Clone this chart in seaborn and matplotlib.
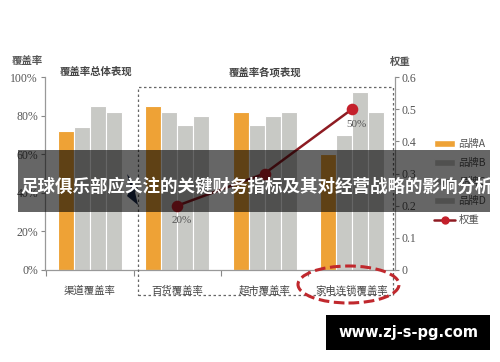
import matplotlib
matplotlib.use("Agg")
import matplotlib.pyplot as plt
from matplotlib.patches import Rectangle, Ellipse, Polygon, Patch
from matplotlib.lines import Line2D
import seaborn as sns
import pandas as pd
import numpy as np

# ---- data ----
categories = ["渠道覆盖率", "百货覆盖率", "超市覆盖率", "家电连锁覆盖率"]
brands = ["品牌A", "品牌B", "品牌C", "品牌D"]
brand_a = [72, 85, 82, 60]
brand_b = [74, 82, 75, 70]
brand_c = [85, 75, 80, 92]
brand_d = [82, 80, 82, 82]
weight_cats = ["百货覆盖率", "超市覆盖率", "家电连锁覆盖率"]
weights = [0.2, 0.3, 0.5]
weight_labels = ["20%", "", "50%"]
left_ticks = [0, 20, 40, 60, 80, 100]
left_ticklabels = ["0%", "20%", "40%", "60%", "80%", "100%"]
right_ticks = [0, 0.1, 0.2, 0.3, 0.4, 0.5, 0.6]
right_ticklabels = ["0", "0.1", "0.2", "0.3", "0.4", "0.5", "0.6"]

rows = []
for b, vals in zip(brands, [brand_a, brand_b, brand_c, brand_d]):
    for c, v in zip(categories, vals):
        rows.append({"cat": c, "brand": b, "val": v})
df = pd.DataFrame(rows)
wdf = pd.DataFrame({"cat": weight_cats, "w": weights})

W, H = 500, 362
def fx(x): return x / W
def fy(y): return 1 - y / H

sns.set_theme(style="white")
plt.rcParams['font.family'] = ['Noto Sans CJK SC', 'DejaVu Sans']

fig = plt.figure(figsize=(5, 3.62), dpi=100)
ax = fig.add_axes([fx(45), fy(270), (395 - 45) / W, (270 - 77) / H])

ORANGE = "#eea236"
GREY = "#c8c9c5"
palette = [ORANGE, GREY, GREY, GREY]
sns.barplot(data=df, x="cat", y="val", hue="brand", order=categories,
            hue_order=brands, palette=palette, width=0.73, ax=ax,
            edgecolor="white", linewidth=0.8, legend=False, saturation=1)

ax.set_ylim(0, 100)
ax.set_yticks(left_ticks)
ax.set_yticklabels(left_ticklabels, family="Liberation Serif", fontsize=8.5, color="#555555")
ax.set_xlabel("")
ax.set_ylabel("")
ax.set_xticks(range(len(categories)))
ax.set_xticklabels(categories, fontsize=7.5, color="#444444")
ax.tick_params(axis="x", length=0, pad=11)
ax.set_xticks([-0.5, 0.5, 1.5, 2.5, 3.5], minor=True)
ax.tick_params(axis="x", which="minor", length=4, direction="out", color="#888888", width=0.8, bottom=True)
ax.tick_params(axis="y", length=3, direction="out", color="#888888", width=0.8, left=True, pad=2)
for s in ["top", "right"]:
    ax.spines[s].set_visible(False)
for s in ["left", "bottom"]:
    ax.spines[s].set_color("#999999")
    ax.spines[s].set_linewidth(0.9)

ax2 = ax.twinx()
sns.pointplot(data=wdf, x="cat", y="w", order=categories, color="#8e1b22",
              markers="o", markersize=7, linewidth=1.8, ax=ax2, errorbar=None)
for ln in ax2.lines:
    ln.set_markerfacecolor("#c4202b")
    ln.set_markeredgecolor("#c4202b")
ax2.set_ylim(0, 0.6)
ax2.set_yticks(right_ticks)
ax2.set_yticklabels(right_ticklabels, family="Liberation Serif", fontsize=8.5, color="#555555")
ax2.set_xlabel("")
ax2.set_ylabel("")
ax2.tick_params(axis="y", length=3, direction="out", color="#888888", width=0.8, right=True, pad=2)
for s in ["top", "left", "bottom"]:
    ax2.spines[s].set_visible(False)
ax2.spines["right"].set_color("#999999")
ax2.spines["right"].set_linewidth(0.9)
for c, w, lab in zip(weight_cats, weights, weight_labels):
    if lab:
        ax2.annotate(lab, (categories.index(c), w), xytext=(3, -11), textcoords="offset points",
                     ha="center", va="center", fontsize=8, family="Liberation Serif", color="#555555")

xl = (-(90 - 45) / 87.33, 3 + (395 - 352) / 87.33)
ax.set_xlim(*xl)
ax2.set_xlim(*xl)

# titles and axis labels
fig.text(fx(27), fy(61), "覆盖率", ha="center", va="center", fontsize=7.5, color="#555555", weight="bold")
fig.text(fx(400), fy(62), "权重", ha="center", va="center", fontsize=7.5, color="#555555", weight="bold")
fig.text(fx(96), fy(72), "覆盖率总体表现", ha="center", va="center", fontsize=7.5, color="#444444", weight="bold")
fig.text(fx(265), fy(72), "覆盖率各项表现", ha="center", va="center", fontsize=7.5, color="#444444", weight="bold")

# dashed box
fig.patches.append(Rectangle((fx(138), fy(295)), (393 - 138) / W, (295 - 87) / H,
                             transform=fig.transFigure, fill=False, ls=(0, (2, 2)),
                             ec="#666666", lw=0.9))
# red ellipse
fig.patches.append(Ellipse((fx(348.5), fy(284.5)), 101 / W, 37 / H, transform=fig.transFigure,
                           fill=False, ec="#c0282d", lw=2.2, ls=(0, (3.5, 1.5))))

# legend
handles = [Patch(fc=ORANGE), Patch(fc=GREY), Patch(fc=GREY), Patch(fc=GREY),
           Line2D([], [], color="#8e1b22", lw=1.8, marker="o", markersize=5,
                  markerfacecolor="#c4202b", markeredgecolor="#c4202b")]
fig.legend(handles, brands + ["权重"], loc="upper left", bbox_to_anchor=(fx(425), fy(130)),
           frameon=False, fontsize=7.5, handlelength=2.0, handleheight=0.6,
           labelspacing=0.85, handletextpad=0.3, labelcolor="#555555")

# small navy arrow shape
fig.patches.append(Polygon([(fx(127), fy(174)), (fx(138), fy(188)), (fx(135), fy(192)),
                            (fx(138), fy(205)), (fx(127), fy(196)), (fx(131), fy(188))],
                           closed=True, transform=fig.transFigure, fc="#1c2b4d", ec="none"))

# overlay band
fig.patches.append(Rectangle((fx(18), fy(212)), (490 - 18) / W, (212 - 150) / H,
                             transform=fig.transFigure, fc="black", alpha=0.6, ec="none", zorder=10))
fig.text(fx(20), fy(187), "足球俱乐部应关注的关键财务指标及其对经营战略的影响分析",
         ha="left", va="center", fontsize=12.6, color="white", weight="bold", zorder=11)

# watermark box
fig.patches.append(Rectangle((fx(326), fy(350)), (490 - 326) / W, (350 - 315) / H,
                             transform=fig.transFigure, fc="black", ec="none", zorder=10))
fig.text(fx(408), fy(333), "www.zj-s-pg.com", ha="center", va="center", fontsize=10.5,
         color="white", weight="bold", family="DejaVu Sans", zorder=11)

fig.savefig("out.png", dpi=100)
